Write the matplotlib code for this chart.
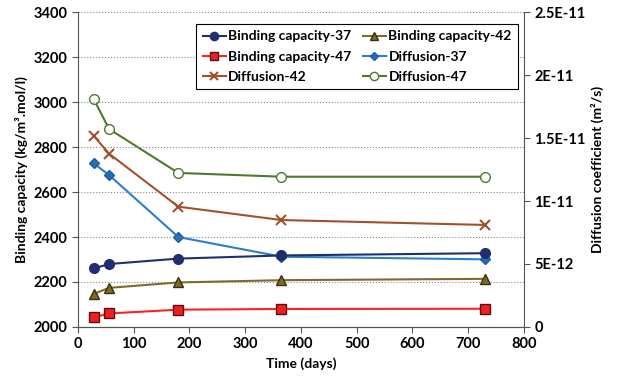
import matplotlib
matplotlib.use("Agg")
import matplotlib.pyplot as plt
from matplotlib.ticker import FixedLocator

plt.rcParams['font.family'] = ['Lato', 'DejaVu Sans']
plt.rcParams['font.weight'] = 'bold'

days = [28, 56, 180, 365, 730]
bc37 = [2260, 2280, 2304, 2318, 2328]
bc42 = [2147, 2174, 2198, 2208, 2214]
bc47 = [2043, 2060, 2077, 2080, 2081]
d37 = [1.30e-11, 1.205e-11, 0.714e-11, 0.558e-11, 0.537e-11]
d42 = [1.518e-11, 1.375e-11, 0.955e-11, 0.849e-11, 0.81e-11]
d47 = [1.81e-11, 1.571e-11, 1.223e-11, 1.193e-11, 1.193e-11]

right_ticks = [0, 5e-12, 1e-11, 1.5e-11, 2e-11, 2.5e-11]
right_labels = ['0', '5E-12', '1E-11', '1.5E-11', '2E-11', '2.5E-11']

fig = plt.figure(figsize=(6.21, 3.78), dpi=100)
ax = fig.add_axes([0.1256, 0.135, 0.7182, 0.833])
ax2 = ax.twinx()

ax.set_zorder(ax2.get_zorder() + 1)
ax.patch.set_visible(False)

h1, = ax.plot(days, bc37, color='#1F2F6E', marker='o', ms=7, mec='#1F2F6E', mfc='#1F2F6E', lw=1.5, label='Binding capacity-37')
h2, = ax.plot(days, bc42, color='#7F6A2A', marker='^', ms=7, mec='#3A3010', mfc='#7F6A2A', lw=1.5, label='Binding capacity-42')
h3, = ax.plot(days, bc47, color='#FF2020', marker='s', ms=7, mec='#5A1010', mfc='#EE2020', lw=1.5, label='Binding capacity-47')
h4, = ax2.plot(days, d37, color='#2A7FCC', marker='D', ms=5, mec='#1F5F9F', mfc='#1F6FB5', lw=1.5, label='Diffusion-37')
h5, = ax2.plot(days, d42, color='#A0522D', marker='x', ms=7, mew=1.5, lw=1.5, label='Diffusion-42')
h6, = ax2.plot(days, d47, color='#4E7A2E', marker='o', ms=7, mfc='white', mec='#4E7A2E', lw=1.5, label='Diffusion-47')

ax.set_xlim(0, 800)
ax.set_ylim(2000, 3400)
ax.set_xticks(range(0, 801, 100))
ax.set_yticks(range(2000, 3401, 200))
ax2.set_ylim(0, 2.5e-11)
ax2.yaxis.set_major_locator(FixedLocator(right_ticks))
ax2.set_yticklabels(right_labels)

ax.yaxis.grid(True, linestyle=':', color='#888888', lw=0.8)
ax.set_axisbelow(True)

for a in (ax, ax2):
    a.spines['top'].set_visible(False)
    for s in a.spines.values():
        s.set_color('#555555')
    a.tick_params(direction='out', length=4, color='#555555', labelsize=10.5)
ax2.spines['left'].set_visible(False)
ax.spines['right'].set_visible(False)

for lab in ax.get_xticklabels() + ax.get_yticklabels() + ax2.get_yticklabels():
    lab.set_fontweight('bold')

ax.set_xlabel('Time (days)', fontsize=10, fontweight='bold')
ax.set_ylabel('Binding capacity (kg/m\u00b3.mol/l)', fontsize=10, fontweight='bold')
ax2.set_ylabel('Diffusion coefficient (m\u00b2/s)', fontsize=10, fontweight='bold')

leg = ax.legend([h1, h3, h5, h2, h4, h6],
                [h.get_label() for h in (h1, h3, h5, h2, h4, h6)],
                ncol=2, loc='upper right', bbox_to_anchor=(0.996, 0.975),
                fancybox=False, edgecolor='black', framealpha=1,
                prop={'size': 10, 'weight': 'bold'},
                handlelength=1.65, handletextpad=0.2, columnspacing=0.8,
                labelspacing=0.6, borderpad=0.45, borderaxespad=0.3,
                markerscale=0.85)
leg.get_frame().set_linewidth(0.8)

fig.savefig('out.png', dpi=100)
